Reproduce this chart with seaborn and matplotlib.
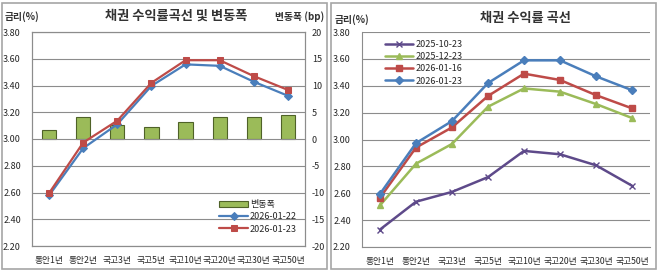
import numpy as np
import pandas as pd
import matplotlib
matplotlib.use("Agg")
import matplotlib.pyplot as plt
import seaborn as sns
from matplotlib.patches import Rectangle
from matplotlib.ticker import FixedLocator

sns.set_style("white")
plt.rcParams['font.family'] = ['Noto Sans CJK KR', 'DejaVu Sans']

# data
categories = ['통안1년', '통안2년', '국고3년', '국고5년', '국고10년', '국고20년', '국고30년', '국고50년']
change_bp = [1.7, 4.2, 2.7, 2.3, 3.1, 4.2, 4.2, 4.4]
y_0122 = [2.578, 2.931, 3.110, 3.397, 3.558, 3.547, 3.428, 3.323]
y_0123 = [2.595, 2.973, 3.137, 3.420, 3.589, 3.589, 3.470, 3.367]

y_1023 = [2.33, 2.537, 2.61, 2.72, 2.915, 2.89, 2.808, 2.656]
y_1223 = [2.51, 2.82, 2.967, 3.244, 3.38, 3.356, 3.264, 3.16]
y_0116 = [2.567, 2.94, 3.09, 3.324, 3.49, 3.443, 3.33, 3.232]

pos = np.arange(len(categories))
left_df = pd.DataFrame({'pos': pos, 'change': change_bp, '2026-01-22': y_0122, '2026-01-23': y_0123})
right_df = pd.DataFrame({'pos': pos, '2025-10-23': y_1023, '2025-12-23': y_1223,
                         '2026-01-16': y_0116, '2026-01-23': y_0123})

BLUE, RED, GREEN, PURPLE = '#4A7EBB', '#BE4B48', '#9BBB59', '#5E4A8A'
GRID = '#8C8C8C'
W, H = 658, 271

fig = plt.figure(figsize=(W / 100, H / 100), dpi=100)

def px(x0, y0, x1, y1):
    return [x0 / W, 1 - y1 / H, (x1 - x0) / W, (y1 - y0) / H]

# panel frames
for x0, x1 in [(2, 327), (331, 656)]:
    fig.patches.append(Rectangle((x0 / W, 2 / H), (x1 - x0) / W, (H - 5) / H,
                                 transform=fig.transFigure, fill=False,
                                 edgecolor='#A6A6A6', linewidth=1.2))

yticks = np.arange(2.2, 3.81, 0.2)

def style_rate_axis(ax):
    ax.set_ylim(2.2, 3.8)
    ax.set_yticks(yticks)
    ax.set_yticklabels([f'{v:.2f}' for v in yticks], fontsize=6.5)
    ax.set_xlim(-0.5, len(categories) - 0.5)
    ax.set_xticks(pos)
    ax.set_xticklabels(categories, fontsize=6.3)
    ax.xaxis.set_minor_locator(FixedLocator(np.arange(-0.5, len(categories), 1)))
    ax.tick_params(axis='x', which='major', length=0, pad=7)
    ax.tick_params(axis='x', which='minor', length=3, direction='in', color=GRID)
    ax.tick_params(axis='y', length=0, pad=8)
    ax.grid(axis='y', color=GRID, linewidth=0.8)
    ax.set_xlabel('')
    ax.set_ylabel('')

# ---------- left chart ----------
axl = fig.add_axes(px(32, 32, 305, 246))
axb = axl.twinx()
sns.barplot(data=left_df, x='pos', y='change', ax=axb, color=GREEN, width=0.42,
            edgecolor='#4F6228', linewidth=0.8, saturation=1, label='변동폭')
axb.set_ylim(-20, 20)
axb.set_yticks(np.arange(-20, 21, 5))
axb.set_yticklabels([str(v) for v in range(-20, 21, 5)], fontsize=6.5)
axb.tick_params(axis='y', length=0, pad=5)
axb.set_ylabel('')
axb.set_xlabel('')

sns.lineplot(data=left_df, x='pos', y='2026-01-22', ax=axl, color=BLUE, marker='D',
             markersize=4, markeredgecolor=BLUE, linewidth=1.6, label='2026-01-22')
sns.lineplot(data=left_df, x='pos', y='2026-01-23', ax=axl, color=RED, marker='s',
             markersize=5, markeredgecolor=RED, linewidth=1.6, label='2026-01-23')
style_rate_axis(axl)
axl.set_zorder(axb.get_zorder() + 1)
axl.patch.set_visible(False)
for sp in list(axl.spines.values()) + list(axb.spines.values()):
    sp.set_color(GRID)
    sp.set_linewidth(0.8)

h1, l1 = axb.get_legend_handles_labels()
h2, l2 = axl.get_legend_handles_labels()
if axb.get_legend() is not None:
    axb.get_legend().remove()
axl.legend(h1 + h2, l1 + l2, loc='lower right', frameon=False, fontsize=6.5,
           handlelength=3.2, handletextpad=0.2, labelspacing=0.35,
           bbox_to_anchor=(1.0, 0.02))

fig.text(105 / W, 1 - 16 / H, '채권 수익률곡선 및 변동폭', fontsize=9.5, fontweight='bold',
         va='center', ha='left', color='#333333')
fig.text(5 / W, 1 - 17 / H, '금리(%)', fontsize=7, fontweight='bold', va='center', color='#333333')
fig.text(324 / W, 1 - 17 / H, '변동폭 (bp)', fontsize=7, fontweight='bold', va='center',
         ha='right', color='#333333')

# ---------- right chart ----------
axr = fig.add_axes(px(362, 32, 650, 247))
series = [('2025-10-23', PURPLE, 'x', 5), ('2025-12-23', GREEN, '^', 4.5),
          ('2026-01-16', RED, 's', 5), ('2026-01-23', BLUE, 'D', 4)]
for name, c, m, ms in series:
    sns.lineplot(data=right_df, x='pos', y=name, ax=axr, color=c, marker=m, markersize=ms,
                 markeredgecolor=c, markeredgewidth=1.0, linewidth=1.8, label=name)
style_rate_axis(axr)
for k in ['top', 'right']:
    axr.spines[k].set_visible(False)
for k in ['left', 'bottom']:
    axr.spines[k].set_color(GRID)
    axr.spines[k].set_linewidth(0.8)
axr.legend(loc='upper left', frameon=False, fontsize=6.5, handlelength=3.2,
           handletextpad=0.2, labelspacing=0.35, bbox_to_anchor=(0.05, 1.0))

fig.text(480 / W, 1 - 18 / H, '채권 수익률 곡선', fontsize=9.5, fontweight='bold',
         va='center', ha='left', color='#333333')
fig.text(335 / W, 1 - 20 / H, '금리(%)', fontsize=7, fontweight='bold', va='center', color='#333333')

fig.savefig('out.png', dpi=100)
